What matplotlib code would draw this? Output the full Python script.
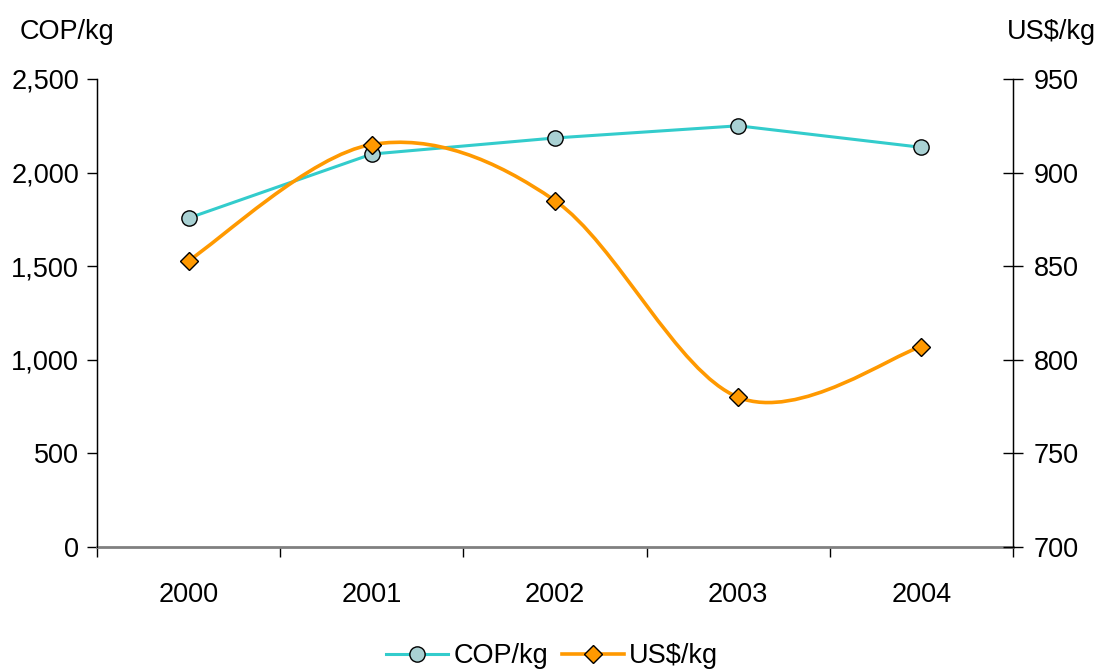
import matplotlib
matplotlib.use('Agg')
import matplotlib.pyplot as plt
from matplotlib.path import Path
from matplotlib.patches import PathPatch
from matplotlib.lines import Line2D
from matplotlib.ticker import FuncFormatter

plt.rcParams['font.family'] = ['Liberation Sans', 'DejaVu Sans']

years = ['2000', '2001', '2002', '2003', '2004']
cop_kg = [1757, 2099, 2185, 2250, 2135]
usd_kg = [853, 915, 885, 780, 807]

TEAL = '#33CCCC'
TEAL_FACE = '#A9D1D3'
ORANGE = '#FF9900'
FS = 19.5

def smooth_path(xs, ys):
    # Excel style smoothed line: bezier segments with Catmull-Rom control points
    pts = list(zip(xs, ys))
    n = len(pts)
    verts = [pts[0]]
    codes = [Path.MOVETO]
    for i in range(n - 1):
        p0 = pts[max(i - 1, 0)]
        p1 = pts[i]
        p2 = pts[i + 1]
        p3 = pts[min(i + 2, n - 1)]
        c1 = (p1[0] + (p2[0] - p0[0]) / 6, p1[1] + (p2[1] - p0[1]) / 6)
        c2 = (p2[0] - (p3[0] - p1[0]) / 6, p2[1] - (p3[1] - p1[1]) / 6)
        verts += [c1, c2, p2]
        codes += [Path.CURVE4] * 3
    return Path(verts, codes)

fig = plt.figure(figsize=(10.98, 6.70), dpi=100)
ax = fig.add_axes([97 / 1098, 123 / 670, 916 / 1098, 468 / 670])
ax2 = ax.twinx()

x = list(range(len(years)))
ax.plot(x, cop_kg, color=TEAL, lw=2.2, marker='o', ms=11,
        mfc=TEAL_FACE, mec='black', mew=1.0, zorder=3)

ax2.add_patch(PathPatch(smooth_path(x, usd_kg), fill=False, edgecolor=ORANGE, lw=2.6, zorder=2))
ax2.plot(x, usd_kg, ls='none', marker='D', ms=9, mfc=ORANGE, mec='black', mew=1.0, zorder=3)

ax.set_xlim(-0.5, 4.5)
ax.set_ylim(0, 2500)
ax2.set_ylim(700, 950)
ax.set_yticks([0, 500, 1000, 1500, 2000, 2500])
ax.yaxis.set_major_formatter(FuncFormatter(lambda v, p: f'{int(v):,}'))
ax2.set_yticks([700, 750, 800, 850, 900, 950])

ax.set_xticks(x)
ax.set_xticklabels(years)
ax.set_xticks([i - 0.5 for i in range(len(years) + 1)], minor=True)
ax.tick_params(axis='x', which='major', length=0, pad=25, labelsize=FS)
ax.tick_params(axis='x', which='minor', length=7, width=1, direction='out')
ax.tick_params(axis='y', length=7, width=1, direction='out', labelsize=FS, pad=6)
ax2.tick_params(axis='y', length=14, width=1, direction='inout', labelsize=FS, pad=8)

for a in (ax, ax2):
    a.spines['top'].set_visible(False)
ax.spines['bottom'].set_color('#808080')
ax.spines['bottom'].set_linewidth(2)
ax2.spines['bottom'].set_visible(False)
ax.spines['left'].set_linewidth(1)
ax2.spines['right'].set_linewidth(1)

fig.text(20 / 1098, 1 - 32 / 670, 'COP/kg', fontsize=FS, ha='left', va='center')
fig.text(1096 / 1098, 1 - 32 / 670, 'US$/kg', fontsize=FS, ha='right', va='center')

handles = [
    Line2D([], [], color=TEAL, lw=2.2, marker='o', ms=11, mfc=TEAL_FACE, mec='black'),
    Line2D([], [], color=ORANGE, lw=2.6, marker='D', ms=9, mfc=ORANGE, mec='black'),
]
fig.legend(handles, ['COP/kg', 'US$/kg'], loc='center', bbox_to_anchor=(552 / 1098, 1 - 656 / 670),
           ncol=2, frameon=False, fontsize=FS, handlelength=2.3, handletextpad=0.2, columnspacing=0.5)

fig.savefig('out.png', dpi=100)
